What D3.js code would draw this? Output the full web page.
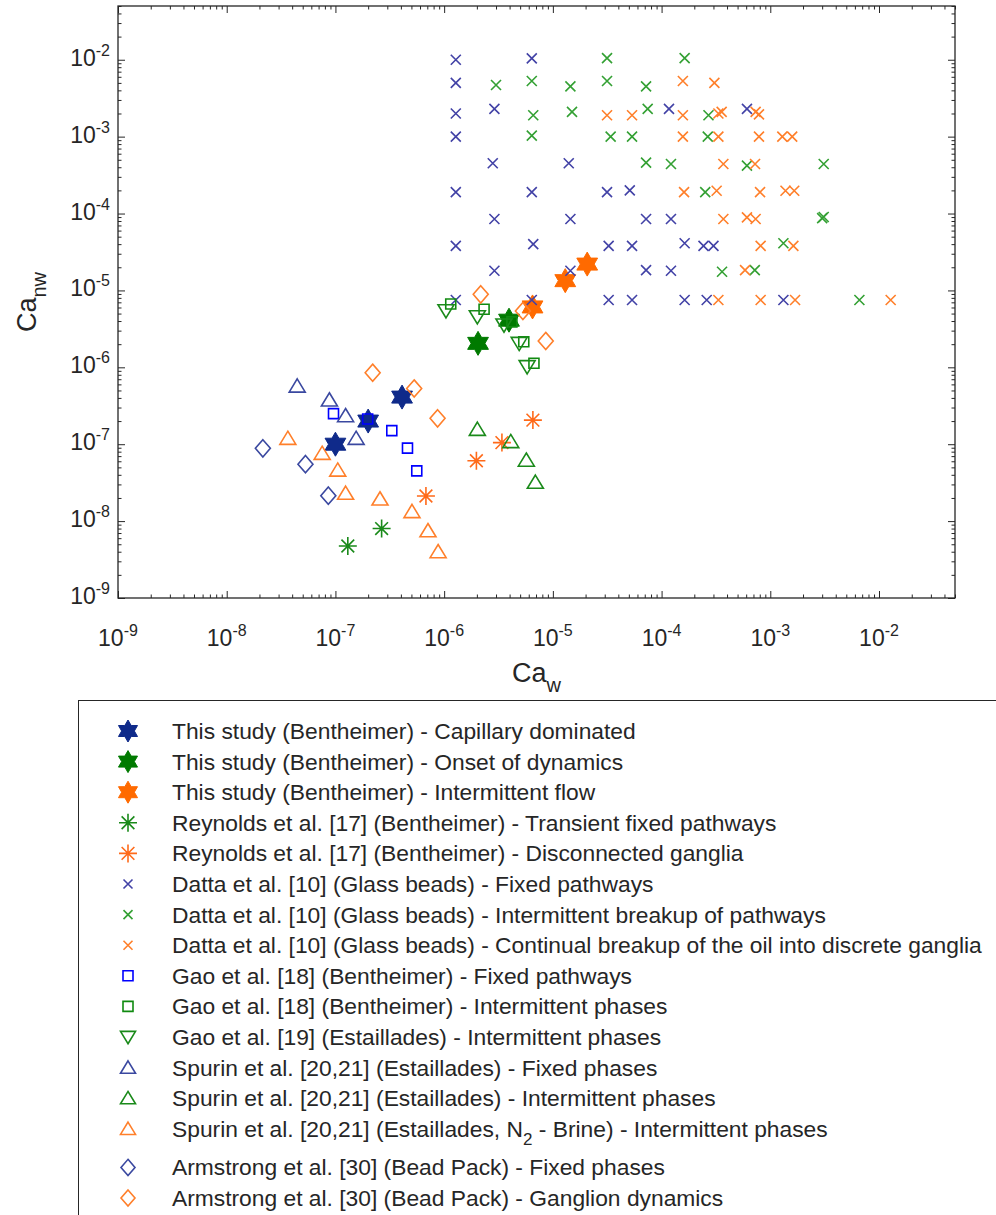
<!DOCTYPE html>
<html>
<head>
<meta charset="utf-8">
<script src="https://cdn.jsdelivr.net/npm/d3@7"></script>
<style>
  body { margin: 0; background: #fff; }
  svg { display: block; font-family: Arial, "Liberation Sans", sans-serif; }
</style>
</head>
<body>
<svg></svg>
<script>
// data: [Ca_w, Ca_nw]
const thisStudyCapillary = [[1e-7, 1e-7], [2e-7, 2e-7], [4.1e-7, 4.1e-7]];
const thisStudyOnset = [[2.05e-6, 2.05e-6], [3.95e-6, 4.1e-6]];
const thisStudyIntermittent = [[6.5e-6, 6.1e-6], [1.3e-5, 1.34e-5], [2.07e-5, 2.2e-5]];
const reynoldsTransient = [[2.66e-7, 8.0e-9], [1.3e-7, 4.75e-9]];
const reynoldsGanglia = [[6.8e-7, 2.12e-8], [1.98e-6, 6.1e-8], [3.4e-6, 1.05e-7], [6.55e-6, 2.06e-7]];
const dattaFixed = [
  [1.28e-6, 1e-2], [6.4e-6, 1.04e-2], [1.28e-6, 5e-3], [1.28e-6, 2e-3], [2.9e-6, 2.3e-3],
  [1.17e-4, 2.3e-3], [6.1e-4, 2.3e-3], [1.28e-6, 1e-3], [2.8e-6, 4.5e-4], [1.4e-5, 4.5e-4],
  [1.28e-6, 1.9e-4], [6.4e-6, 1.9e-4], [3.15e-5, 1.9e-4], [5.1e-5, 2e-4], [2.9e-6, 8.5e-5],
  [1.45e-5, 8.5e-5], [7.2e-5, 8.5e-5], [1.22e-4, 8.5e-5], [1.28e-6, 3.8e-5], [6.6e-6, 4e-5],
  [3.26e-5, 3.8e-5], [5.35e-5, 3.8e-5], [1.63e-4, 4.1e-5], [2.43e-4, 3.8e-5], [3.0e-4, 3.8e-5],
  [2.9e-6, 1.8e-5], [1.45e-5, 1.8e-5], [7.2e-5, 1.84e-5], [1.22e-4, 1.8e-5], [1.28e-6, 7.5e-6],
  [6.4e-6, 7.5e-6], [3.26e-5, 7.5e-6], [5.35e-5, 7.5e-6], [1.63e-4, 7.5e-6], [2.6e-4, 7.5e-6],
  [1.32e-3, 7.5e-6]
];
const dattaIntermittent = [
  [3.0e-6, 4.7e-3], [6.4e-6, 5.3e-3], [1.45e-5, 4.5e-3], [3.15e-5, 1.05e-2], [3.15e-5, 5.3e-3],
  [7.2e-5, 4.5e-3], [1.63e-4, 1.05e-2], [6.6e-6, 1.9e-3], [1.5e-5, 2.1e-3], [6.4e-6, 1.03e-3],
  [3.4e-5, 1e-3], [5.35e-5, 1e-3], [7.45e-5, 2.3e-3], [7.2e-5, 4.6e-4], [1.22e-4, 4.4e-4],
  [2.7e-4, 1.9e-3], [2.66e-4, 1e-3], [2.52e-4, 1.9e-4], [6.1e-4, 4.2e-4], [3.1e-3, 4.4e-4],
  [3.0e-3, 8.7e-5], [3.1e-3, 9e-5], [1.32e-3, 4.1e-5], [3.6e-4, 1.75e-5], [7.2e-4, 1.84e-5],
  [6.6e-3, 7.5e-6]
];
const dattaContinual = [
  [3.15e-5, 1.9e-3], [5.35e-5, 1.9e-3], [1.57e-4, 5.3e-3], [3.06e-4, 5e-3], [1.57e-4, 1.9e-3],
  [3.33e-4, 2e-3], [3.57e-4, 2.1e-3], [7.33e-4, 2.1e-3], [7.87e-4, 1.95e-3], [1.57e-4, 1e-3],
  [3.33e-4, 1e-3], [7.87e-4, 1e-3], [1.29e-3, 1e-3], [1.59e-3, 1e-3], [3.7e-4, 4.4e-4],
  [7.24e-4, 4.4e-4], [1.61e-4, 1.9e-4], [3.21e-4, 1.98e-4], [8.05e-4, 1.9e-4], [1.38e-3, 1.98e-4],
  [1.66e-3, 1.98e-4], [3.7e-4, 8.5e-5], [6.1e-4, 8.9e-5], [7.33e-4, 8.5e-5], [8.15e-4, 3.8e-5],
  [1.63e-3, 3.8e-5], [5.86e-4, 1.84e-5], [3.33e-4, 7.5e-6], [8.15e-4, 7.5e-6], [1.69e-3, 7.5e-6],
  [1.28e-2, 7.5e-6]
];
const gaoBentheimerFixed = [[9.6e-8, 2.5e-7], [1.98e-7, 2.13e-7], [3.3e-7, 1.5e-7], [4.6e-7, 8.9e-8], [5.6e-7, 4.5e-8]];
const gaoBentheimerIntermittent = [[1.15e-6, 6.65e-6], [2.33e-6, 5.7e-6], [4.2e-6, 3.9e-6], [5.4e-6, 2.15e-6], [6.7e-6, 1.13e-6]];
const gaoEstailladesIntermittent = [[1.04e-6, 5.45e-6], [2.02e-6, 4.55e-6], [3.55e-6, 3.55e-6], [4.9e-6, 2.05e-6], [5.8e-6, 1.02e-6]];
const spurinFixed = [[4.45e-8, 5.7e-7], [8.8e-8, 3.76e-7], [1.24e-7, 2.35e-7], [1.55e-7, 1.19e-7]];
const spurinIntermittent = [[2.02e-6, 1.56e-7], [4.1e-6, 1.08e-7], [5.7e-6, 6.2e-8], [6.9e-6, 3.2e-8]];
const spurinN2Brine = [
  [3.65e-8, 1.19e-7], [7.55e-8, 7.6e-8], [1.05e-7, 4.6e-8], [1.24e-7, 2.3e-8],
  [2.57e-7, 1.94e-8], [5.06e-7, 1.33e-8], [7.1e-7, 7.5e-9], [8.8e-7, 4.0e-9]
];
const armstrongFixed = [[2.15e-8, 8.85e-8], [5.3e-8, 5.5e-8], [8.6e-8, 2.14e-8]];
const armstrongGanglion = [[2.2e-7, 8.5e-7], [5.3e-7, 5.3e-7], [8.7e-7, 2.17e-7], [2.17e-6, 8.9e-6], [5.3e-6, 5.4e-6], [8.6e-6, 2.2e-6]];

const legendLabels = [
  'This study (Bentheimer) - Capillary dominated',
  'This study (Bentheimer) - Onset of dynamics',
  'This study (Bentheimer) - Intermittent flow',
  'Reynolds et al. [17] (Bentheimer) - Transient fixed pathways',
  'Reynolds et al. [17] (Bentheimer) - Disconnected ganglia',
  'Datta et al. [10] (Glass beads) - Fixed pathways',
  'Datta et al. [10] (Glass beads) - Intermittent breakup of pathways',
  'Datta et al. [10] (Glass beads) - Continual breakup of the oil into discrete ganglia',
  'Gao et al. [18] (Bentheimer) - Fixed pathways',
  'Gao et al. [18] (Bentheimer) - Intermittent phases',
  'Gao et al. [19] (Estaillades) - Intermittent phases',
  'Spurin et al. [20,21] (Estaillades) - Fixed phases',
  'Spurin et al. [20,21] (Estaillades) - Intermittent phases',
  'Spurin et al. [20,21] (Estaillades, N_2 - Brine) - Intermittent phases',
  'Armstrong et al. [30] (Bead Pack) - Fixed phases',
  'Armstrong et al. [30] (Bead Pack) - Ganglion dynamics'
];

const majorExponents = [-9, -8, -7, -6, -5, -4, -3, -2];

// series table (plot order = legend order)
const series = [
  { data: thisStudyCapillary, sym: 'hexagram', color: '#0f2a8a', fill: true },
  { data: thisStudyOnset, sym: 'hexagram', color: '#007a00', fill: true },
  { data: thisStudyIntermittent, sym: 'hexagram', color: '#ff6a00', fill: true },
  { data: reynoldsTransient, sym: 'asterisk', color: '#1a8a1a' },
  { data: reynoldsGanglia, sym: 'asterisk', color: '#ff6a1a' },
  { data: dattaFixed, sym: 'cross', color: '#4242a6' },
  { data: dattaIntermittent, sym: 'cross', color: '#33a033' },
  { data: dattaContinual, sym: 'cross', color: '#ff7f2a' },
  { data: gaoBentheimerFixed, sym: 'square', color: '#0000ff' },
  { data: gaoBentheimerIntermittent, sym: 'square', color: '#108a10' },
  { data: gaoEstailladesIntermittent, sym: 'triDown', color: '#1a8a1a' },
  { data: spurinFixed, sym: 'triUp', color: '#3a48a0' },
  { data: spurinIntermittent, sym: 'triUp', color: '#1a8a1a' },
  { data: spurinN2Brine, sym: 'triUp', color: '#ff7f2a' },
  { data: armstrongFixed, sym: 'diamond', color: '#3a48a0' },
  { data: armstrongGanglion, sym: 'diamond', color: '#ff7f2a' }
];

const svg = d3.select('svg').attr('width', 996).attr('height', 1215);

const LEFT = 118, RIGHT = 955, TOP = 6, BOTTOM = 598;
const x = d3.scaleLog().domain([1e-9, 5e-2]).range([LEFT, RIGHT]);
const y = d3.scaleLog().domain([1e-9, 5e-2]).range([BOTTOM, TOP]);

// marker paths centred on 0,0
function markerPath(sym, s) {
  const p = d3.path();
  if (sym === 'hexagram') {
    for (let k = 0; k < 12; k++) {
      const a = -Math.PI / 2 + k * Math.PI / 6;
      const r = k % 2 === 0 ? s : s / Math.sqrt(3);
      if (k === 0) p.moveTo(r * Math.cos(a), r * Math.sin(a));
      else p.lineTo(r * Math.cos(a), r * Math.sin(a));
    }
    p.closePath();
  } else if (sym === 'asterisk') {
    const d = s * Math.SQRT1_2;
    p.moveTo(-s, 0); p.lineTo(s, 0);
    p.moveTo(0, -s); p.lineTo(0, s);
    p.moveTo(-d, -d); p.lineTo(d, d);
    p.moveTo(-d, d); p.lineTo(d, -d);
  } else if (sym === 'cross') {
    p.moveTo(-s, -s); p.lineTo(s, s);
    p.moveTo(-s, s); p.lineTo(s, -s);
  } else if (sym === 'square') {
    p.rect(-s, -s, 2 * s, 2 * s);
  } else if (sym === 'triUp') {
    p.moveTo(0, -s * 0.9); p.lineTo(s, s * 0.75); p.lineTo(-s, s * 0.75); p.closePath();
  } else if (sym === 'triDown') {
    p.moveTo(0, s * 0.9); p.lineTo(s, -s * 0.75); p.lineTo(-s, -s * 0.75); p.closePath();
  } else if (sym === 'diamond') {
    p.moveTo(0, -s * 1.15); p.lineTo(s, 0); p.lineTo(0, s * 1.15); p.lineTo(-s, 0); p.closePath();
  }
  return p.toString();
}

const plotSize = { hexagram: 12, asterisk: 9, cross: 5, square: 5, triUp: 8, triDown: 8, diamond: 7.5 };
const legendSize = { hexagram: 11, asterisk: 9, cross: 4.5, square: 5, triUp: 7.5, triDown: 7.5, diamond: 7 };

// ticks: majors + minors (2..9 per decade) inside the limits
const minorTicks = [];
majorExponents.forEach(e => {
  for (let m = 2; m <= 9; m++) {
    const v = m * Math.pow(10, e);
    if (v <= 5e-2) minorTicks.push(v);
  }
});
const majorTicks = majorExponents.map(e => Math.pow(10, e));

const axes = svg.append('g').attr('class', 'axes');

function drawTicks(axisFn, scale, values, len, transform) {
  const g = axes.append('g').attr('transform', transform);
  g.call(axisFn(scale).tickValues(values).tickSizeInner(-len).tickSizeOuter(0).tickFormat(''));
  g.select('.domain').remove();
  g.selectAll('.tick line').attr('stroke', '#262626').attr('stroke-width', 1);
  return g;
}

[[majorTicks, 7], [minorTicks, 3.5]].forEach(([vals, len]) => {
  drawTicks(d3.axisBottom, x, vals, len, `translate(0,${BOTTOM})`);
  drawTicks(d3.axisTop, x, vals, len, `translate(0,${TOP})`);
  drawTicks(d3.axisLeft, y, vals, len, `translate(${LEFT},0)`);
  drawTicks(d3.axisRight, y, vals, len, `translate(${RIGHT},0)`);
});

axes.append('rect')
  .attr('x', LEFT).attr('y', TOP)
  .attr('width', RIGHT - LEFT).attr('height', BOTTOM - TOP)
  .attr('fill', 'none').attr('stroke', '#262626').attr('stroke-width', 1.3);

// tick labels 10^n
function powerLabel(sel, e) {
  sel.append('tspan').text('10');
  sel.append('tspan').attr('font-size', 16).attr('dy', -10).text(e);
}

axes.selectAll('.xlab').data(majorExponents).join('text')
  .attr('class', 'xlab')
  .attr('x', d => x(Math.pow(10, d)))
  .attr('y', 646)
  .attr('text-anchor', 'middle')
  .attr('font-size', 23)
  .attr('fill', '#262626')
  .each(function (d) { powerLabel(d3.select(this), d); });

axes.selectAll('.ylab').data(majorExponents).join('text')
  .attr('class', 'ylab')
  .attr('x', 110)
  .attr('y', d => y(Math.pow(10, d)) + 6)
  .attr('text-anchor', 'end')
  .attr('font-size', 23)
  .attr('fill', '#262626')
  .each(function (d) { powerLabel(d3.select(this), d); });

// axis titles
const xt = svg.append('text')
  .attr('x', (LEFT + RIGHT) / 2).attr('y', 682)
  .attr('text-anchor', 'middle').attr('font-size', 27).attr('fill', '#262626');
xt.append('tspan').text('Ca');
xt.append('tspan').attr('font-size', 20).attr('dy', 10).text('w');

const yt = svg.append('text')
  .attr('transform', `translate(36,${(TOP + BOTTOM) / 2}) rotate(-90)`)
  .attr('text-anchor', 'middle').attr('font-size', 27).attr('fill', '#262626');
yt.append('tspan').text('Ca');
yt.append('tspan').attr('font-size', 20).attr('dy', 10).text('nw');

// markers
const marks = svg.append('g');
series.forEach(s => {
  marks.append('g').selectAll('path').data(s.data).join('path')
    .attr('transform', d => `translate(${x(d[0])},${y(d[1])})`)
    .attr('d', markerPath(s.sym, plotSize[s.sym]))
    .attr('fill', s.fill ? s.color : 'none')
    .attr('stroke', s.color)
    .attr('stroke-width', s.fill ? 1 : 1.6)
    .attr('stroke-linejoin', 'miter');
});

// legend
const legend = svg.append('g');
legend.append('rect')
  .attr('x', 78.5).attr('y', 700.5).attr('width', 960).attr('height', 560)
  .attr('fill', '#fff').attr('stroke', '#262626').attr('stroke-width', 1);

const rowY = i => 731 + i * 30.6 + (i >= 14 ? 8 : 0);

series.forEach((s, i) => {
  legend.append('path')
    .attr('transform', `translate(128,${rowY(i)})`)
    .attr('d', markerPath(s.sym, legendSize[s.sym]))
    .attr('fill', s.fill ? s.color : 'none')
    .attr('stroke', s.color)
    .attr('stroke-width', s.fill ? 1 : 1.6);

  const t = legend.append('text')
    .attr('x', 172).attr('y', rowY(i) + 8)
    .attr('font-size', 22.8).attr('fill', '#262626');
  const parts = legendLabels[i].split('_');
  t.append('tspan').text(parts[0]);
  if (parts.length > 1) {
    t.append('tspan').attr('font-size', 17).attr('dy', 8).text(parts[1][0]);
    t.append('tspan').attr('dy', -8).text(parts[1].slice(1));
  }
});
</script>
</body>
</html>
